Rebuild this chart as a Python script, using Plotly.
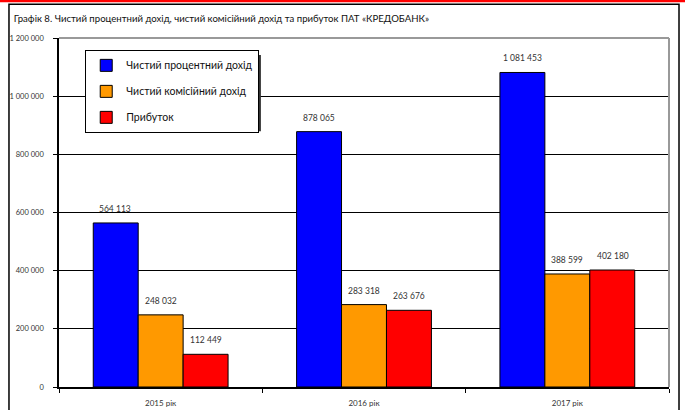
import plotly.graph_objects as go

FONT = "Lato, 'Liberation Sans', sans-serif"

years = ["2015 рік", "2016 рік", "2017 рік"]
interest_income = [564113, 878065, 1081453]
commission_income = [248032, 283318, 388599]
profit = [112449, 263676, 402180]

series_names = ["Чистий процентний дохід", "Чистий комісійний дохід", "Прибуток"]
series_colors = ["#0000FF", "#FF9900", "#FF0000"]
y_ticks = [0, 200000, 400000, 600000, 800000, 1000000, 1200000]

all_series = [interest_income, commission_income, profit]

fig = go.Figure()
annotations = []
for i, (name, vals, color) in enumerate(zip(series_names, all_series, series_colors)):
    fig.add_trace(
        go.Bar(
            x=years,
            y=vals,
            name=name,
            legendgroup=f"g{i}",
            marker=dict(color=color, line=dict(color="black", width=1)),
        )
    )
    # value labels sit a little higher above the bars than plotly's own outside text
    for year, v in zip(years, vals):
        annotations.append(dict(
            x=year, y=v, xref="x", yref="y",
            text=f"{v:,}".replace(",", " "),
            showarrow=False, yanchor="bottom",
            xshift=(i - 1) * 45.3, yshift=7,
            font=dict(size=8.5, color="#333333", family=FONT),
        ))

# plot area border (grey, top/right), outer frame, red rule, legend shadow
shapes = [
    dict(type="line", xref="paper", yref="paper", x0=0, x1=1, y0=1, y1=1, line=dict(color="#999999", width=2)),
    dict(type="line", xref="paper", yref="paper", x0=1, x1=1, y0=0, y1=1, line=dict(color="#999999", width=2)),
    dict(type="rect", xref="paper", yref="paper", x0=-0.082, x1=1.0164, y0=-0.2, y1=1.097,
         line=dict(color="black", width=1.5)),
    dict(type="line", xref="paper", yref="paper", x0=-0.2, x1=1.2, y0=1.106, y1=1.106, line=dict(color="#FF0000", width=2.5)),
    dict(type="rect", xref="paper", yref="paper", x0=0.0508, x1=0.331, y0=0.733, y1=0.951,
         fillcolor="#333333", line=dict(width=0), layer="above"),
]

fig.update_layout(
    width=685,
    height=410,
    margin=dict(l=59, r=16, t=38, b=23),
    paper_bgcolor="white",
    plot_bgcolor="white",
    separators=". ",
    font=dict(family=FONT, color="#222222"),
    title=dict(
        text="Графік 8. Чистий процентний дохід, чистий комісійний дохід та прибуток ПАТ «КРЕДОБАНК»",
        font=dict(size=9.6, family=FONT, color="#111111"),
        xref="container", yref="container", x=0.02, y=0.955, xanchor="left", yanchor="middle",
    ),
    barmode="group",
    bargap=0.337,
    bargroupgap=0,
    showlegend=True,
    legend=dict(
        x=0.043, y=0.966, xanchor="left", yanchor="top",
        bgcolor="white", bordercolor="black", borderwidth=1,
        font=dict(size=10.5, family=FONT, color="#111111"),
        tracegroupgap=7,
        traceorder="grouped",
        itemwidth=30,
    ),
    xaxis=dict(
        showline=True, linecolor="black", linewidth=1.5,
        ticks="outside", tickson="boundaries", ticklen=4, tickcolor="black",
        tickfont=dict(size=8, color="#333333"),
        ticklabelstandoff=8,
        automargin=False,
        showgrid=False,
    ),
    yaxis=dict(
        range=[0, 1200000],
        tickvals=y_ticks,
        tickformat=",d",
        showline=True, linecolor="black", linewidth=1.5,
        ticks="outside", ticklen=4, tickcolor="black",
        tickfont=dict(size=7.5, color="#333333"),
        ticklabelstandoff=8,
        automargin=False,
        showgrid=True, gridcolor="black", gridwidth=1,
        zeroline=False,
    ),
    shapes=shapes,
    annotations=annotations,
)

fig.write_html("out.html", config={"displayModeBar": False},
               post_script="document.body.style.margin='0';")
